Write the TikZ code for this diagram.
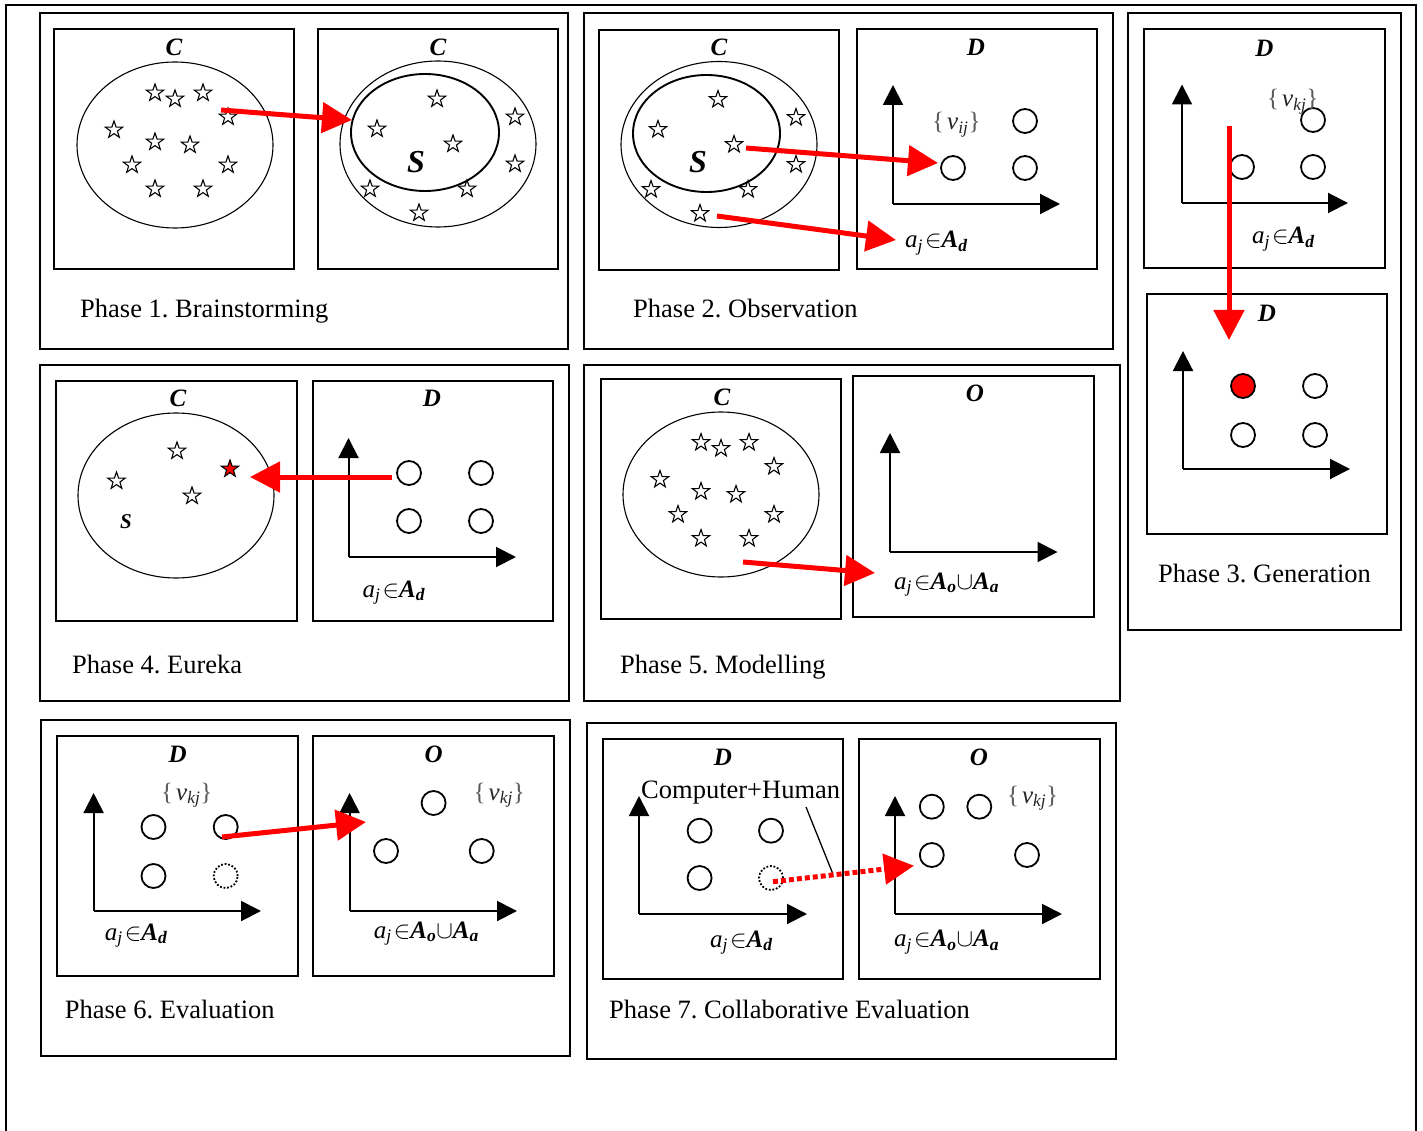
\documentclass[tikz,border=0pt]{standalone}
\usepackage{fontspec}
\setmainfont{Liberation Serif}
\usetikzlibrary{arrows.meta,shapes.geometric}
\frenchspacing
\newcommand{\ajsub}{\textit{a}\textsubscript{\textit{j}}\kern2pt$\in$}
\newcommand{\ajAd}{\ajsub\textbf{\textit{A}}\textsubscript{\textbf{\textit{d}}}}
\newcommand{\ajAoAa}{\ajsub\textbf{\textit{A}}\textsubscript{\textbf{\textit{o}}}$\cup$\textbf{\textit{A}}\textsubscript{\textbf{\textit{a}}}}
\newcommand{\vset}[1]{\textcolor{black!65}{\{\kern3pt}\textcolor{black!85}{\textit{v}\textsubscript{\textit{#1}}}\textcolor{black!65}{\}}}
\begin{document}
\begin{tikzpicture}[x=1pt,y=-1pt,
  boxline/.style={line width=1.8pt},
  ell/.style={line width=1.1pt},
  ellS/.style={line width=1.9pt},
  starnode/.style={star, star points=5, star point ratio=2.5, minimum size=18pt, inner sep=0pt, draw, line width=1.1pt, fill=white},
  circ/.style={circle, draw, line width=1.8pt, minimum size=24pt, inner sep=0pt},
  dcirc/.style={circ, dash pattern=on 1.8pt off 1.8pt},
  lab/.style={inner sep=0pt, font=\fontsize{25pt}{28pt}\selectfont\bfseries\itshape},
  bigS/.style={inner sep=0pt, font=\fontsize{32pt}{35pt}\selectfont\bfseries\itshape},
  phase/.style={inner sep=0pt, anchor=base west, font=\fontsize{26.5pt}{30pt}\selectfont},
  mtxt/.style={inner sep=0pt, anchor=base west, font=\fontsize{25pt}{28pt}\selectfont},
  axis/.style={line width=2pt, -{Triangle[length=20pt,width=20pt]}},
  redarrow/.style={draw=red, line width=5pt, -{Triangle[length=30pt,width=30pt]}},
  reddots/.style={redarrow, dash pattern=on 5pt off 3pt}
]
\useasboundingbox (0,0) rectangle (1423,1131);
\fill[white] (0,0) rectangle (1423,1131);

% outer frame
\draw[line width=2pt] (5.5,1131) -- (5.5,5.5) -- (1416,5.5) -- (1416,1131);

% phase frames and panels
\draw[boxline] (40,13) rectangle (568,349);
\draw[boxline] (54,29) rectangle (294,269);
\draw[boxline] (318,29) rectangle (558,269);
\draw[boxline] (584,13) rectangle (1113,349);
\draw[boxline] (599,30) rectangle (839,270);
\draw[boxline] (857,29) rectangle (1097,269);
\draw[boxline] (1128,13) rectangle (1401,630);
\draw[boxline] (1144,29) rectangle (1385,268);
\draw[boxline] (1147,294) rectangle (1387,534);
\draw[boxline] (40,365) rectangle (569,701);
\draw[boxline] (56,381) rectangle (297,621);
\draw[boxline] (313,381) rectangle (553,621);
\draw[boxline] (584,365) rectangle (1120,701);
\draw[boxline] (601,379) rectangle (841,619);
\draw[boxline] (853,376) rectangle (1094,617);
\draw[boxline] (41,720) rectangle (570,1056);
\draw[boxline] (57,736) rectangle (298,976);
\draw[boxline] (313,736) rectangle (554,976);
\draw[boxline] (587,723) rectangle (1116,1059);
\draw[boxline] (603,739) rectangle (843,979);
\draw[boxline] (859,739) rectangle (1100,979);

% panel titles
\node[lab] (t1a) at (174,47.5) {C};
\node[lab] (t1b) at (438,47.5) {C};
\node[lab] (t2a) at (719,47) {C};
\node[lab] (t2b) at (976,47) {D};
\node[lab] (t3a) at (1264.5,48) {D};
\node[lab] (t3b) at (1267,313) {D};
\node[lab] (t4a) at (178,398) {C};
\node[lab] (t4b) at (432,398) {D};
\node[lab] (t5a) at (722,397) {C};
\node[lab] (t5b) at (975,393.5) {O};
\node[lab] (t6a) at (177.6,754) {D};
\node[lab] (t6b) at (433.6,754) {O};
\node[lab] (t7a) at (723,757) {D};
\node[lab] (t7b) at (979,757) {O};

% ---- Phase 1
\draw[ell] (175,145) ellipse [x radius=98pt, y radius=83pt];
\foreach \dx/\dy [count=\i] in {-20/-52, 0/-46, 28/-52, 53/-28, -61/-15, -20/-3, 15/0, -43/20, 53/20, -20/44, 28/44}
  {\node[starnode] (pa\i) at (175+\dx,145+\dy) {};}
\draw[ell] (438,144) ellipse [x radius=98pt, y radius=83pt];
\draw[ellS] (425,132.5) ellipse [x radius=74pt, y radius=58.5pt];
\foreach \dx/\dy [count=\i] in {-1/-45, -61/-15, 15/0, 77/-27, 77/20, -68/45, 29/45, -19/69}
  {\node[starnode] (pb\i) at (438+\dx,144+\dy) {};}
\node[bigS] (S1) at (416,162) {S};
\node[phase] (ph1) at (80,318) {Phase 1. Brainstorming};

% ---- Phase 2
\draw[ell] (719,144.5) ellipse [x radius=98pt, y radius=83pt];
\draw[ellS] (706.5,133.5) ellipse [x radius=73.5pt, y radius=58.5pt];
\foreach \dx/\dy [count=\i] in {-1/-45, -61/-15, 15/0, 77/-27, 77/20, -68/45, 29/45, -19/69}
  {\node[starnode] (qa\i) at (719+\dx,144.5+\dy) {};}
\node[bigS] (S2) at (698,162) {S};
\coordinate (o2) at (893,204);
\coordinate (y2) at (893,85);
\coordinate (x2) at (1060,204);
\draw[axis] (o2) -- (y2);
\draw[axis] (o2) -- (x2);
\node[circ] (c2a) at (953,168) {};
\node[circ] (c2b) at (1025,121) {};
\node[circ] (c2c) at (1025,168) {};
\node[mtxt] (v2) at (932,130) {\vset{ij}};
\node[mtxt] (a2) at (905,248) {\ajAd};
\node[phase] (ph2) at (633,318) {Phase 2. Observation};

% ---- Phase 3
\coordinate (o3a) at (1182,203);
\coordinate (y3a) at (1182,84.5);
\coordinate (x3a) at (1348,203);
\draw[axis] (o3a) -- (y3a);
\draw[axis] (o3a) -- (x3a);
\node[circ] (c3a) at (1242,167) {};
\node[circ] (c3b) at (1313,167) {};
\node[circ] (c3c) at (1313,120) {};
\node[mtxt] (v3) at (1267,107) {\vset{kj}};
\node[mtxt] (a3) at (1252,244) {\ajAd};
\coordinate (o3b) at (1183,469);
\coordinate (y3b) at (1183,351);
\coordinate (x3b) at (1350,469);
\draw[axis] (o3b) -- (y3b);
\draw[axis] (o3b) -- (x3b);
\node[circ, fill=red] (c3d) at (1243,386) {};
\node[circ] (c3e) at (1315,386) {};
\node[circ] (c3f) at (1243,435) {};
\node[circ] (c3g) at (1315,435) {};
\node[phase] (ph3) at (1158,582) {Phase 3. Generation};

% ---- Phase 4
\draw[ell] (176,495.5) ellipse [x radius=98pt, y radius=82.5pt];
\node[starnode] (r1) at (177,451) {};
\node[starnode] (r2) at (116.5,481) {};
\node[starnode] (r3) at (192,496) {};
\node[starnode, fill=red] (r4) at (230,469) {};
\node[bigS, font=\fontsize{21pt}{24pt}\selectfont\bfseries\itshape] (S4) at (126,522) {S};
\coordinate (o4) at (348.5,557);
\coordinate (y4) at (348.5,438);
\coordinate (x4) at (516,557);
\draw[axis] (o4) -- (y4);
\draw[axis] (o4) -- (x4);
\node[circ] (c4a) at (409,473) {};
\node[circ] (c4b) at (481,473) {};
\node[circ] (c4c) at (409,521) {};
\node[circ] (c4d) at (481,521) {};
\node[mtxt] (a4) at (362.5,597) {\ajAd};
\node[phase] (ph4) at (72,673) {Phase 4. Eureka};

% ---- Phase 5
\draw[ell] (721,494.5) ellipse [x radius=98pt, y radius=82.5pt];
\foreach \dx/\dy [count=\i] in {-20/-52, 0/-46, 28/-52, 53/-28, -61/-15, -20/-3, 15/0, -43/20, 53/20, -20/44, 28/44}
  {\node[starnode] (pm\i) at (721+\dx,494.5+\dy) {};}
\coordinate (o5) at (890,552);
\coordinate (y5) at (890,433);
\coordinate (x5) at (1057.5,552);
\draw[axis] (o5) -- (y5);
\draw[axis] (o5) -- (x5);
\node[mtxt] (a5) at (894,589) {\ajAoAa};
\node[phase] (ph5) at (620,673) {Phase 5. Modelling};

% ---- Phase 6
\coordinate (o6a) at (93.6,911);
\coordinate (y6a) at (93.6,793);
\coordinate (x6a) at (261,911);
\draw[axis] (o6a) -- (y6a);
\draw[axis] (o6a) -- (x6a);
\node[circ] (c6a) at (153.5,827) {};
\node[circ] (c6b) at (225.7,827) {};
\node[circ] (c6c) at (153.5,876) {};
\node[dcirc] (c6d) at (225.7,876) {};
\node[mtxt] (v6a) at (161,800) {\vset{kj}};
\node[mtxt] (a6a) at (104.7,940) {\ajAd};
\coordinate (o6b) at (349.6,911);
\coordinate (y6b) at (349.6,793);
\coordinate (x6b) at (517,911);
\draw[axis] (o6b) -- (y6b);
\draw[axis] (o6b) -- (x6b);
\node[circ] (c6e) at (433.6,803) {};
\node[circ] (c6f) at (386,851) {};
\node[circ] (c6g) at (481.7,851) {};
\node[mtxt] (v6b) at (473.5,800) {\vset{kj}};
\node[mtxt] (a6b) at (373.7,938) {\ajAoAa};
\node[phase] (ph6) at (64.7,1018) {Phase 6. Evaluation};

% ---- Phase 7
\node[phase] (ch) at (641,798) {Computer+Human};
\coordinate (chA) at (806,807);
\coordinate (chB) at (832.5,873);
\draw[line width=1.3pt] (chA) -- (chB);
\coordinate (o7a) at (639,914);
\coordinate (y7a) at (639,796);
\coordinate (x7a) at (807,914);
\draw[axis] (o7a) -- (y7a);
\draw[axis] (o7a) -- (x7a);
\node[circ] (c7a) at (699.6,830.7) {};
\node[circ] (c7b) at (771,830.7) {};
\node[circ] (c7c) at (699.6,878) {};
\node[dcirc] (c7d) at (771,878) {};
\node[mtxt] (a7a) at (710,947) {\ajAd};
\coordinate (o7b) at (895,914);
\coordinate (y7b) at (895,796);
\coordinate (x7b) at (1062,914);
\draw[axis] (o7b) -- (y7b);
\draw[axis] (o7b) -- (x7b);
\node[circ] (c7e) at (931.8,806.7) {};
\node[circ] (c7f) at (979.3,806.7) {};
\node[circ] (c7g) at (931.8,855) {};
\node[circ] (c7h) at (1027,855) {};
\node[mtxt] (v7b) at (1006.8,803) {\vset{kj}};
\node[mtxt] (a7b) at (894,946.5) {\ajAoAa};
\node[phase] (ph7) at (609,1018) {Phase 7. Collaborative Evaluation};

% ---- red arrows
\coordinate (r1s) at (221,110);   \coordinate (r1e) at (352,120);
\coordinate (r2s) at (746,148);   \coordinate (r2e) at (938,163);
\coordinate (r3s) at (717,216);   \coordinate (r3e) at (896,240);
\coordinate (r4s) at (1229,126.5);\coordinate (r4e) at (1229,340);
\coordinate (r5s) at (392,477);   \coordinate (r5e) at (250,477);
\coordinate (r6s) at (743,562);   \coordinate (r6e) at (875,573);
\coordinate (r7s) at (222,837);   \coordinate (r7e) at (366,822);
\coordinate (r8s) at (773,881.7); \coordinate (r8e) at (914,865.7);
\draw[redarrow] (r1s) -- (r1e);
\draw[redarrow] (r2s) -- (r2e);
\draw[redarrow] (r3s) -- (r3e);
\draw[redarrow] (r4s) -- (r4e);
\draw[redarrow] (r5s) -- (r5e);
\draw[redarrow] (r6s) -- (r6e);
\draw[redarrow] (r7s) -- (r7e);
\draw[reddots] (r8s) -- (r8e);
\end{tikzpicture}
\end{document}
